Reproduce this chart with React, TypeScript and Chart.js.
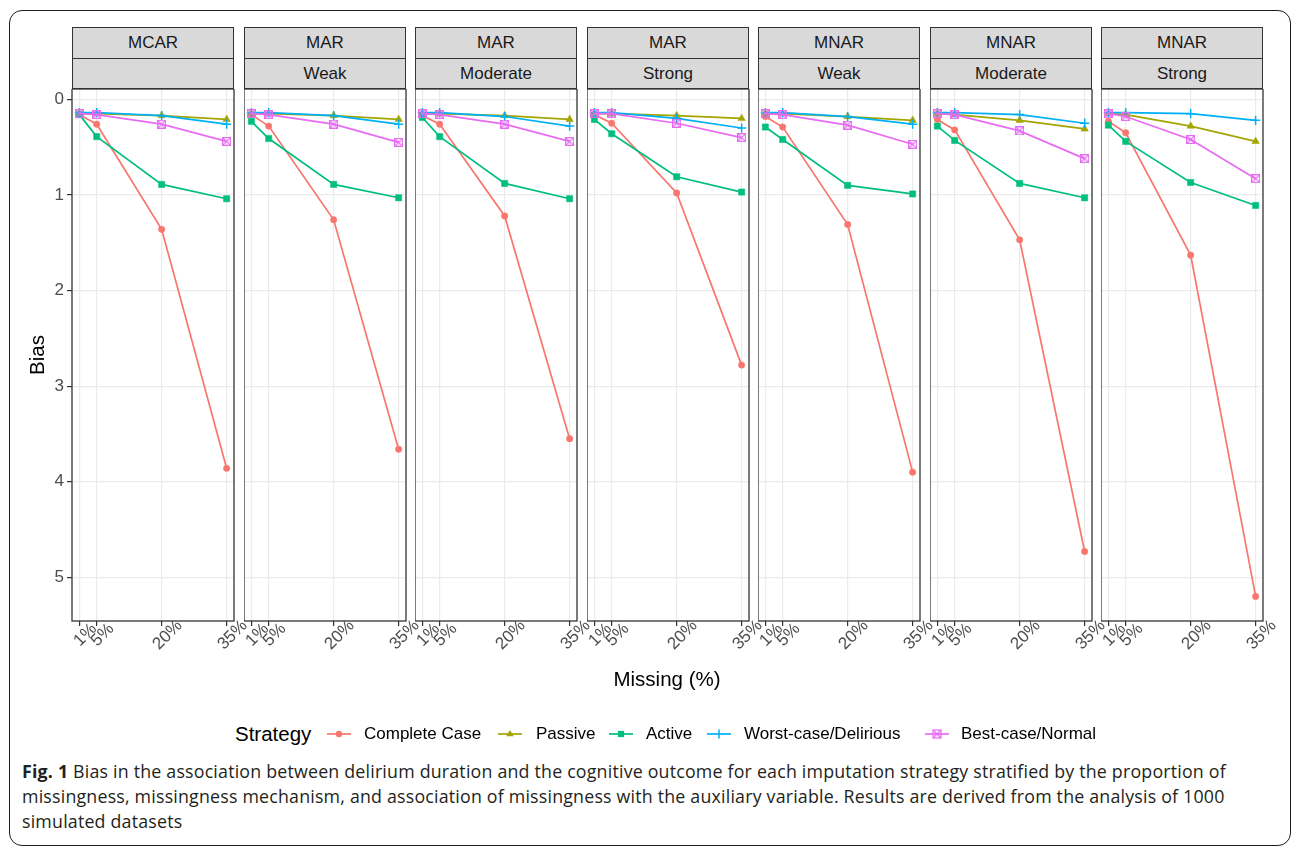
import React, { useEffect, useRef } from "react";
import { Chart, registerables } from "chart.js";

Chart.register(...registerables);

// ---------------- DATA ----------------
const missingPct = [1, 5, 20, 35];
const xTickLabels = ["1%", "5%", "20%", "35%"];
const yTicks = [0, 1, 2, 3, 4, 5];
const mechanisms = ["MCAR", "MAR", "MAR", "MAR", "MNAR", "MNAR", "MNAR"];
const associations = ["", "Weak", "Moderate", "Strong", "Weak", "Moderate", "Strong"];
const strategyNames = ["Complete Case", "Passive", "Active", "Worst-case/Delirious", "Best-case/Normal"];
const strategyColors = ["#F8766D", "#A3A500", "#00BF7D", "#00B0F6", "#E76BF3"];

// one row per panel, values at 1%, 5%, 20%, 35%
const completeCase = [
  [0.16, 0.26, 1.36, 3.86],
  [0.16, 0.28, 1.26, 3.66],
  [0.17, 0.26, 1.22, 3.55],
  [0.16, 0.25, 0.98, 2.78],
  [0.18, 0.29, 1.31, 3.9],
  [0.21, 0.32, 1.47, 4.73],
  [0.23, 0.35, 1.63, 5.2],
];
const passive = [
  [0.15, 0.15, 0.17, 0.21],
  [0.15, 0.15, 0.17, 0.21],
  [0.15, 0.15, 0.17, 0.21],
  [0.15, 0.15, 0.17, 0.2],
  [0.15, 0.15, 0.18, 0.22],
  [0.15, 0.16, 0.22, 0.31],
  [0.15, 0.16, 0.28, 0.44],
];
const active = [
  [0.16, 0.39, 0.89, 1.04],
  [0.23, 0.41, 0.89, 1.03],
  [0.19, 0.39, 0.88, 1.04],
  [0.21, 0.36, 0.81, 0.97],
  [0.29, 0.42, 0.9, 0.99],
  [0.28, 0.43, 0.88, 1.03],
  [0.27, 0.44, 0.87, 1.11],
];
const worstCase = [
  [0.14, 0.14, 0.17, 0.26],
  [0.14, 0.14, 0.17, 0.26],
  [0.14, 0.14, 0.18, 0.28],
  [0.14, 0.14, 0.2, 0.3],
  [0.14, 0.14, 0.18, 0.26],
  [0.14, 0.14, 0.16, 0.25],
  [0.14, 0.14, 0.15, 0.22],
];
const bestCase = [
  [0.15, 0.16, 0.26, 0.44],
  [0.15, 0.16, 0.26, 0.45],
  [0.15, 0.16, 0.26, 0.44],
  [0.15, 0.15, 0.25, 0.4],
  [0.15, 0.16, 0.27, 0.47],
  [0.15, 0.16, 0.33, 0.62],
  [0.15, 0.18, 0.42, 0.83],
];
const seriesList = [completeCase, passive, active, worstCase, bestCase];

// ---------------- LAYOUT ----------------
const FONT = '"Liberation Sans", Arial, Helvetica, sans-serif';
const PANEL_LEFT0 = 72;
const PANEL_STEP = 171.5;
const PANEL_W = 162;
const STRIP_TOP = 27;
const STRIP_MID = 58;
const PANEL_TOP = 89;
const PANEL_H = 532;
const Y_AXIS_W = 48;
const X_AXIS_H = 60;
const RIGHT_PAD = 16;
const X_MIN = -0.7;
const X_MAX = 36.7;
const Y_MIN = -0.108;
const Y_MAX = 5.457;

const panelLeft = (i: number) => Math.round(PANEL_LEFT0 + i * PANEL_STEP);

function makeSquareCross(color: string) {
  const c = document.createElement("canvas");
  c.width = 9;
  c.height = 9;
  const g = c.getContext("2d")!;
  g.strokeStyle = color;
  g.lineWidth = 1.2;
  g.strokeRect(0.6, 0.6, 7.8, 7.8);
  g.beginPath();
  g.moveTo(0.6, 0.6);
  g.lineTo(8.4, 8.4);
  g.moveTo(8.4, 0.6);
  g.lineTo(0.6, 8.4);
  g.stroke();
  return c;
}

const panelBoxPlugin = {
  id: "panelBox",
  afterDraw(chart: any) {
    const { ctx, chartArea } = chart;
    ctx.save();
    ctx.strokeStyle = "#333333";
    ctx.lineWidth = 1.3;
    ctx.strokeRect(chartArea.left, chartArea.top, chartArea.right - chartArea.left, chartArea.bottom - chartArea.top);
    ctx.restore();
  },
};

const xLabelPlugin = {
  id: "xLabels",
  afterDraw(chart: any) {
    const { ctx, chartArea } = chart;
    const xs = chart.scales.x;
    ctx.save();
    ctx.fillStyle = "#4D4D4D";
    ctx.font = `17px ${FONT}`;
    ctx.textAlign = "center";
    ctx.textBaseline = "top";
    missingPct.forEach((v, i) => {
      const px = xs.getPixelForValue(v);
      ctx.save();
      ctx.translate(px, chartArea.bottom + 8);
      ctx.rotate(-Math.PI / 4);
      ctx.fillText(xTickLabels[i], 0, 0);
      ctx.restore();
    });
    ctx.restore();
  },
};

function Panel({ index }: { index: number }) {
  const ref = useRef<HTMLCanvasElement | null>(null);
  const first = index === 0;
  const yW = first ? Y_AXIS_W : 0;
  const width = PANEL_W + yW + RIGHT_PAD;
  const height = PANEL_H + X_AXIS_H;

  useEffect(() => {
    if (!ref.current) return;
    const bestStyle = makeSquareCross(strategyColors[4]);
    const styles: any[] = ["circle", "triangle", "rect", "cross", bestStyle];
    const radii = [3.2, 4.3, 4.4, 4.6, 4.5];
    const datasets = strategyNames
      .map((name, s) => ({
        label: name,
        data: missingPct.map((x, j) => ({ x, y: seriesList[s][index][j] })),
        borderColor: strategyColors[s],
        backgroundColor: strategyColors[s],
        borderWidth: 1.7,
        pointStyle: styles[s],
        pointRadius: radii[s],
        pointBorderWidth: s === 3 ? 1.5 : 0.5,
        pointBackgroundColor: strategyColors[s],
        pointBorderColor: strategyColors[s],
        tension: 0,
        fill: false,
      }))
      .reverse();

    const chart = new Chart(ref.current, {
      type: "line",
      data: { datasets },
      plugins: [panelBoxPlugin, xLabelPlugin],
      options: {
        animation: false,
        responsive: false,
        maintainAspectRatio: false,
        devicePixelRatio: 1,
        events: [],
        layout: { autoPadding: false, padding: { left: 0, right: RIGHT_PAD, top: 0, bottom: 0 } },
        plugins: { legend: { display: false }, tooltip: { enabled: false } },
        scales: {
          x: {
            type: "linear",
            min: X_MIN,
            max: X_MAX,
            afterBuildTicks: (s: any) => {
              s.ticks = missingPct.map((v) => ({ value: v }));
            },
            afterFit: (s: any) => {
              s.height = X_AXIS_H;
              s.paddingLeft = 0;
              s.paddingRight = 0;
            },
            grid: { color: "#EBEBEB", lineWidth: 1.2, tickColor: "#333333", tickLength: 5, drawTicks: true },
            border: { display: false },
            ticks: { display: false },
          },
          y: {
            type: "linear",
            reverse: true,
            min: Y_MIN,
            max: Y_MAX,
            afterBuildTicks: (s: any) => {
              s.ticks = yTicks.map((v) => ({ value: v }));
            },
            afterFit: (s: any) => {
              s.width = yW;
              s.paddingTop = 0;
              s.paddingBottom = 0;
            },
            grid: {
              color: "#EBEBEB",
              lineWidth: 1.2,
              tickColor: "#333333",
              tickLength: first ? 5 : 0,
              drawTicks: first,
            },
            border: { display: false },
            ticks: {
              display: first,
              color: "#4D4D4D",
              font: { family: FONT, size: 17 },
              padding: 3,
              callback: (v: any) => String(v),
            },
          },
        },
      } as any,
    });
    return () => chart.destroy();
  }, [index]);

  return (
    <canvas
      ref={ref}
      width={width}
      height={height}
      style={{ position: "absolute", left: panelLeft(index) - yW, top: PANEL_TOP, width, height }}
    />
  );
}

function Strip({ index }: { index: number }) {
  const left = panelLeft(index);
  const cell: React.CSSProperties = {
    position: "absolute",
    left: 0,
    width: "100%",
    textAlign: "center",
    fontFamily: FONT,
    fontSize: 17,
    color: "#1A1A1A",
  };
  return (
    <div
      style={{
        position: "absolute",
        left,
        top: STRIP_TOP,
        width: PANEL_W,
        height: PANEL_TOP - STRIP_TOP,
        boxSizing: "border-box",
        border: "1.3px solid #333333",
        background: "#D9D9D9",
      }}
    >
      <div style={{ ...cell, top: 0, height: STRIP_MID - STRIP_TOP - 1, lineHeight: `${STRIP_MID - STRIP_TOP - 1}px` }}>
        {mechanisms[index]}
      </div>
      <div
        style={{
          position: "absolute",
          left: 0,
          width: "100%",
          top: STRIP_MID - STRIP_TOP - 1.5,
          height: 0,
          borderTop: "1.3px solid #333333",
        }}
      />
      <div style={{ ...cell, top: STRIP_MID - STRIP_TOP, height: PANEL_TOP - STRIP_MID - 1, lineHeight: `${PANEL_TOP - STRIP_MID - 1}px` }}>
        {associations[index]}
      </div>
    </div>
  );
}

function LegendKey({ s }: { s: number }) {
  const c = strategyColors[s];
  let marker: React.ReactNode = null;
  if (s === 0) marker = <circle cx={12} cy={10} r={3.2} fill={c} />;
  if (s === 1) marker = <polygon points="12,6 15.8,12.2 8.2,12.2" fill={c} />;
  if (s === 2) marker = <rect x={8.9} y={6.9} width={6.2} height={6.2} fill={c} />;
  if (s === 3)
    marker = (
      <g stroke={c} strokeWidth={1.5}>
        <line x1={12} y1={5.4} x2={12} y2={14.6} />
      </g>
    );
  if (s === 4)
    marker = (
      <g stroke={c} strokeWidth={1.2} fill="none">
        <rect x={8} y={6} width={8} height={8} />
        <line x1={8} y1={6} x2={16} y2={14} />
        <line x1={16} y1={6} x2={8} y2={14} />
      </g>
    );
  return (
    <svg width={24} height={20} style={{ display: "block" }}>
      <line x1={0} y1={10} x2={24} y2={10} stroke={c} strokeWidth={1.7} />
      {marker}
    </svg>
  );
}

const legendKeyLeft = [327, 498, 609, 707, 925];
const legendLabelLeft = [364, 536, 646, 744, 961];

export default function App() {
  useEffect(() => {
    document.body.style.margin = "0";
  }, []);
  const legendY = 734;
  return (
    <div style={{ position: "absolute", left: 0, top: 0, width: 1296, height: 847, background: "#fff", overflow: "hidden" }}>
      <div
        style={{
          position: "absolute",
          left: 9,
          top: 10,
          width: 1282,
          height: 836,
          boxSizing: "border-box",
          border: "1.5px solid #1E1E1E",
          borderRadius: 13,
        }}
      />
      {mechanisms.map((_, i) => (
        <Strip key={"s" + i} index={i} />
      ))}
      {mechanisms.map((_, i) => (
        <Panel key={"p" + i} index={i} />
      ))}
      <div
        style={{
          position: "absolute",
          left: 37 - 40,
          top: 355 - 12,
          width: 80,
          height: 24,
          lineHeight: "24px",
          textAlign: "center",
          transform: "rotate(-90deg)",
          fontFamily: FONT,
          fontSize: 20.5,
          color: "#000",
        }}
      >
        Bias
      </div>
      <div
        style={{
          position: "absolute",
          left: 567,
          top: 667,
          width: 200,
          height: 24,
          lineHeight: "24px",
          textAlign: "center",
          fontFamily: FONT,
          fontSize: 20.5,
          color: "#000",
        }}
      >
        Missing (%)
      </div>
      <div
        style={{
          position: "absolute",
          left: 235,
          top: legendY - 12,
          height: 24,
          lineHeight: "24px",
          fontFamily: FONT,
          fontSize: 20.5,
          color: "#000",
          whiteSpace: "nowrap",
        }}
      >
        Strategy
      </div>
      {strategyNames.map((n, s) => (
        <React.Fragment key={"l" + s}>
          <div style={{ position: "absolute", left: legendKeyLeft[s], top: legendY - 10 }}>
            <LegendKey s={s} />
          </div>
          <div
            style={{
              position: "absolute",
              left: legendLabelLeft[s],
              top: legendY - 11,
              height: 22,
              lineHeight: "22px",
              fontFamily: FONT,
              fontSize: 17,
              color: "#000",
              whiteSpace: "nowrap",
            }}
          >
            {n}
          </div>
        </React.Fragment>
      ))}
      <div
        style={{
          position: "absolute",
          left: 22,
          top: 759,
          fontFamily: "'Open Sans', 'Noto Sans', sans-serif",
          fontSize: 17.8,
          letterSpacing: 0.2,
          lineHeight: "25px",
          color: "#231F20",
          whiteSpace: "nowrap",
        }}
      >
        <div>
          <b>Fig. 1</b> Bias in the association between delirium duration and the cognitive outcome for each imputation strategy stratified by the proportion of
        </div>
        <div>
          missingness, missingness mechanism, and association of missingness with the auxiliary variable. Results are derived from the analysis of 1000
        </div>
        <div>simulated datasets</div>
      </div>
    </div>
  );
}
